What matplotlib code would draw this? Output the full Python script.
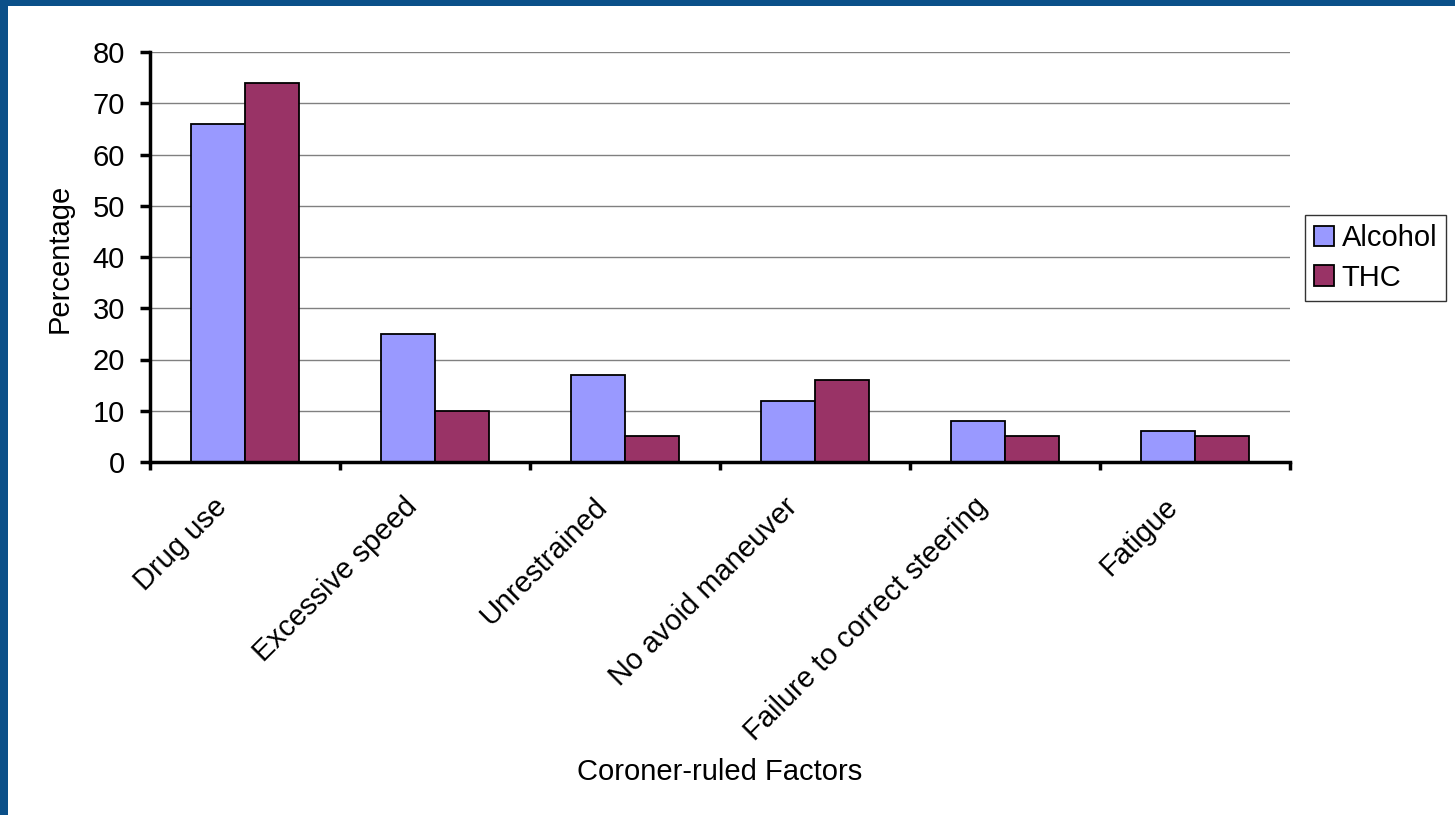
import matplotlib.pyplot as plt
import matplotlib.patches as mpatches
import matplotlib.transforms as mtransforms
import numpy as np

plt.rcParams['font.family'] = ['Liberation Sans', 'DejaVu Sans']

factors = ['Drug use', 'Excessive speed', 'Unrestrained', 'No avoid maneuver',
           'Failure to correct steering', 'Fatigue']
alcohol = [66, 25, 17, 12, 8, 6]
thc = [74, 10, 5, 16, 5, 5]
y_ticks = [0, 10, 20, 30, 40, 50, 60, 70, 80]

FS = 21

fig = plt.figure(figsize=(14.55, 8.15), dpi=100)
fig.patch.set_facecolor('white')

# dark blue slide border on the left and top edges
fig.patches.append(mpatches.Rectangle((0, 0), 8 / 1455, 1, transform=fig.transFigure,
                                      facecolor='#0b5089', edgecolor='none', zorder=0))
fig.patches.append(mpatches.Rectangle((0, 1 - 6 / 815), 1, 6 / 815, transform=fig.transFigure,
                                      facecolor='#0b5089', edgecolor='none', zorder=0))

ax = fig.add_axes([150 / 1455, 353 / 815, 1140 / 1455, 410 / 815])

x = np.arange(len(factors))
w = 1 / 3.5
ax.bar(x - w / 2, alcohol, w, color='#9999ff', edgecolor='black', linewidth=1.3,
       label='Alcohol', zorder=3)
ax.bar(x + w / 2, thc, w, color='#993366', edgecolor='black', linewidth=1.3,
       label='THC', zorder=3)

ax.set_xlim(-0.5, len(factors) - 0.5)
ax.set_ylim(0, 80)
ax.set_yticks(y_ticks)
ax.yaxis.grid(True, color='#808080', linewidth=1.0, zorder=0)
ax.tick_params(axis='y', labelsize=FS, length=7, width=2.5, direction='out', pad=11)

# ticks sit between the categories, labels at the centres
ax.set_xticks(np.arange(len(factors) + 1) - 0.5)
ax.set_xticklabels([])
ax.tick_params(axis='x', length=6, width=2.5, direction='out')
ax.set_xticks(x, minor=True)
ax.set_xticklabels(factors, minor=True, rotation=45, ha='right', va='center',
                   rotation_mode='anchor', fontsize=FS)
ax.tick_params(axis='x', which='minor', length=0, pad=29)
shift = mtransforms.ScaledTranslation(-22 / 100, 0, fig.dpi_scale_trans)
for lbl in ax.get_xticklabels(minor=True):
    lbl.set_transform(lbl.get_transform() + shift)

for side in ['top', 'right']:
    ax.spines[side].set_visible(False)
ax.spines['left'].set_linewidth(2.5)
ax.spines['bottom'].set_linewidth(2.5)
ax.spines['bottom'].set_zorder(4)

fig.text(60 / 1455, 1 - 258 / 815, 'Percentage', fontsize=FS, rotation=90,
         ha='center', va='center')
fig.text(720 / 1455, 1 - 772 / 815, 'Coroner-ruled Factors', fontsize=FS,
         ha='center', va='center')

leg = ax.legend(loc='center left', bbox_to_anchor=(1305 / 1455, 1 - 258 / 815),
                bbox_transform=fig.transFigure, fontsize=FS, frameon=True,
                fancybox=False, edgecolor='black', handlelength=0.7, handleheight=0.7,
                handletextpad=0.25, borderpad=0.3, labelspacing=0.4, borderaxespad=0)
leg.get_frame().set_linewidth(1.0)

fig.savefig('out.png', dpi=100, facecolor='white')
